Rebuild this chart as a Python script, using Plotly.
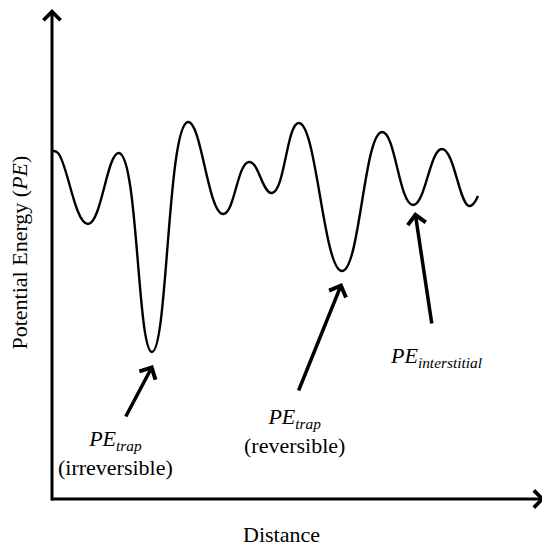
import plotly.graph_objects as go

# potential energy profile: turning points (arbitrary units)
distance = [1, 6, 36, 67, 100, 136, 171, 197, 220, 247, 290, 330, 361, 390, 417, 426]
energy = [348, 346, 275, 346, 147, 377, 285, 337, 306, 376, 228, 367, 294, 350, 293, 303]

# pointer arrows (head -> tail)
pointer_heads_x = [101, 290, 363]
pointer_heads_y = [134, 216, 287]
pointer_tails_x = [73, 246, 380]
pointer_tails_y = [81, 107, 174]

# labels under the arrows
label_text = [
    "<i>PE<sub>trap</sub></i><br>(irreversible)",
    "<i>PE<sub>trap</sub></i><br>(reversible)",
    "<i>PE<sub>interstitial</sub></i>",
]
label_x = [63, 242, 384]
label_y = [46, 68, 142]

FONT = "Liberation Serif"

fig = go.Figure()
fig.add_trace(
    go.Scatter(
        x=distance,
        y=energy,
        mode="lines",
        line=dict(color="black", width=2.4, shape="spline", smoothing=1.3),
        hoverinfo="skip",
        showlegend=False,
    )
)

annotations = []

# axes drawn as arrows
annotations.append(dict(
    xref="paper", yref="paper", x=1.0, y=0.0, ax=-495, ay=0,
    showarrow=True, arrowhead=4, arrowsize=1.1, arrowwidth=3, arrowcolor="black", text="",
))
annotations.append(dict(
    xref="paper", yref="paper", x=0.0, y=1.0, ax=0, ay=494,
    showarrow=True, arrowhead=4, arrowsize=1.1, arrowwidth=3, arrowcolor="black", text="",
))

for hx, hy, tx, ty in zip(pointer_heads_x, pointer_heads_y, pointer_tails_x, pointer_tails_y):
    annotations.append(dict(
        xref="x", yref="y", axref="x", ayref="y",
        x=hx, y=hy, ax=tx, ay=ty,
        showarrow=True, arrowhead=4, arrowsize=1.0, arrowwidth=3.5, arrowcolor="black", text="",
    ))

for t, lx, ly in zip(label_text, label_x, label_y):
    annotations.append(dict(
        xref="x", yref="y", x=lx, y=ly, text=t, showarrow=False,
        font=dict(family=FONT, size=22, color="black"),
    ))

# axis titles
annotations.append(dict(
    xref="paper", yref="paper", x=0.4665, y=-0.0733, text="Distance", showarrow=False,
    xanchor="center", yanchor="middle",
    font=dict(family=FONT, size=22, color="black"),
))
annotations.append(dict(
    xref="paper", yref="paper", x=-0.066, y=0.503, text="Potential Energy (<i>PE</i>)",
    textangle=-90, showarrow=False, xanchor="center", yanchor="middle",
    font=dict(family=FONT, size=22, color="black"),
))

# page body has an 8px margin, so the figure is a bit smaller than the window
fig.update_layout(
    width=542,
    height=542,
    margin=dict(l=44, r=5, t=0, b=51),
    paper_bgcolor="white",
    plot_bgcolor="white",
    annotations=annotations,
    showlegend=False,
)
fig.update_xaxes(range=[0, 493], showgrid=False, zeroline=False, showticklabels=False, ticks="", showline=False)
fig.update_yaxes(range=[0, 491], showgrid=False, zeroline=False, showticklabels=False, ticks="", showline=False)

fig.write_html("out.html")
